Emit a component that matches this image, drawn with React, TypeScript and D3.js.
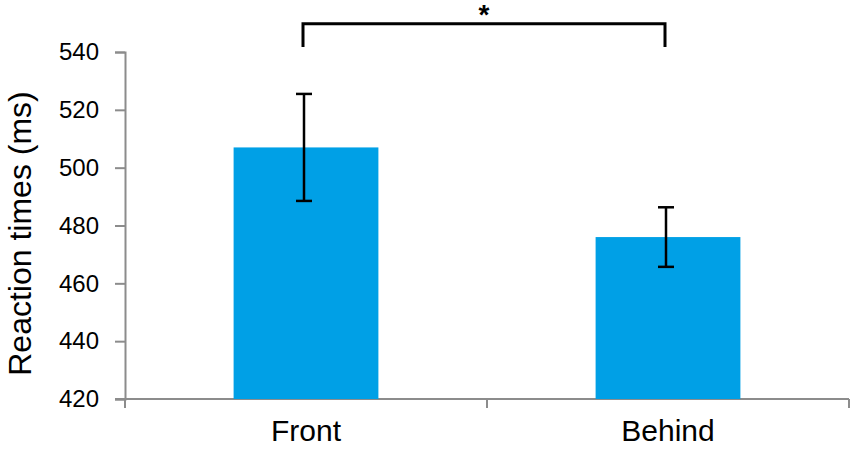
import * as d3 from 'd3';
import React, { useEffect, useRef } from 'react';

const categories = ['Front', 'Behind'];
const means = [507, 476];
const errors = [18.5, 10.3];
const yTicks = [420, 440, 460, 480, 500, 520, 540];
const sigLabel = '*';

export default function App() {
    const ref = useRef<SVGSVGElement>(null);

    const width = 850;
    const height = 449;
    const margin = { top: 52, right: 1, bottom: 50, left: 125 };

    useEffect(() => {
        const svg = d3.select(ref.current);
        svg.selectAll('*').remove();

        const x = d3.scaleBand<string>()
            .domain(categories)
            .range([margin.left, width - margin.right])
            .padding(0);

        const y = d3.scaleLinear()
            .domain([420, 540])
            .range([height - margin.bottom, margin.top]);

        const font = 'Liberation Sans, Arial, sans-serif';
        const axisColor = '#8c8c8c';

        // y axis
        const yAxis = svg.append('g')
            .attr('transform', `translate(${margin.left},0)`)
            .call(d3.axisLeft(y).tickValues(yTicks).tickSize(10).tickPadding(16).tickFormat(d3.format('d')));
        yAxis.select('.domain').attr('stroke', axisColor).attr('stroke-width', 2);
        yAxis.selectAll('.tick line').attr('stroke', axisColor).attr('stroke-width', 2);
        yAxis.selectAll('.tick text')
            .attr('font-family', font)
            .attr('font-size', 24)
            .attr('fill', '#000');

        // x axis, ticks on band edges
        const xg = svg.append('g').attr('transform', `translate(0,${y(420)})`);
        xg.append('line')
            .attr('x1', margin.left - 10).attr('x2', width - margin.right)
            .attr('stroke', axisColor).attr('stroke-width', 2);
        const edges = categories.map(c => x(c)!).concat([x(categories[categories.length - 1])! + x.bandwidth()]);
        xg.selectAll('line.edge').data(edges).enter().append('line')
            .attr('class', 'edge')
            .attr('x1', d => d).attr('x2', d => d)
            .attr('y1', 0).attr('y2', 9)
            .attr('stroke', axisColor).attr('stroke-width', 2);
        xg.selectAll('text').data(categories).enter().append('text')
            .attr('x', d => x(d)! + x.bandwidth() / 2)
            .attr('y', 42)
            .attr('text-anchor', 'middle')
            .attr('font-family', font)
            .attr('font-size', 30)
            .text(d => d);

        // y title
        svg.append('text')
            .attr('transform', `translate(31,${(y(420) + y(540)) / 2 + 8}) rotate(-90)`)
            .attr('text-anchor', 'middle')
            .attr('font-family', font)
            .attr('font-size', 32)
            .text('Reaction times (ms)');

        // bars
        const barW = x.bandwidth() * 0.4;
        const cx = (i: number) => x(categories[i])! + x.bandwidth() / 2;
        svg.selectAll('rect.bar').data(means).enter().append('rect')
            .attr('class', 'bar')
            .attr('x', (d, i) => cx(i) - barW / 2)
            .attr('y', d => y(d))
            .attr('width', barW)
            .attr('height', d => y(420) - y(d))
            .attr('fill', '#00a0e6');

        // error bars
        const eb = svg.append('g').attr('stroke', '#000').attr('stroke-width', 2.5);
        means.forEach((m, i) => {
            const c = cx(i) - 2;
            eb.append('line').attr('x1', c).attr('x2', c).attr('y1', y(m + errors[i])).attr('y2', y(m - errors[i]));
            eb.append('line').attr('x1', c - 8).attr('x2', c + 8).attr('y1', y(m + errors[i])).attr('y2', y(m + errors[i]));
            eb.append('line').attr('x1', c - 8).attr('x2', c + 8).attr('y1', y(m - errors[i])).attr('y2', y(m - errors[i]));
        });

        // significance bracket
        const x1 = cx(0) - 3;
        const x2 = cx(1) - 3;
        const top = y(549.8);
        const legs = y(541.7);
        svg.append('path')
            .attr('d', `M${x1},${legs}V${top}H${x2}V${legs}`)
            .attr('fill', 'none')
            .attr('stroke', '#000')
            .attr('stroke-width', 3);
        svg.append('text')
            .attr('x', (x1 + x2) / 2)
            .attr('y', 24)
            .attr('text-anchor', 'middle')
            .attr('font-family', font)
            .attr('font-weight', 'bold')
            .attr('font-size', 28)
            .text(sigLabel);
    }, []);

    return (
        <svg ref={ref} width={width} height={height}
            style={{ position: 'absolute', left: 0, top: 0, background: '#fff' }} />
    );
}
